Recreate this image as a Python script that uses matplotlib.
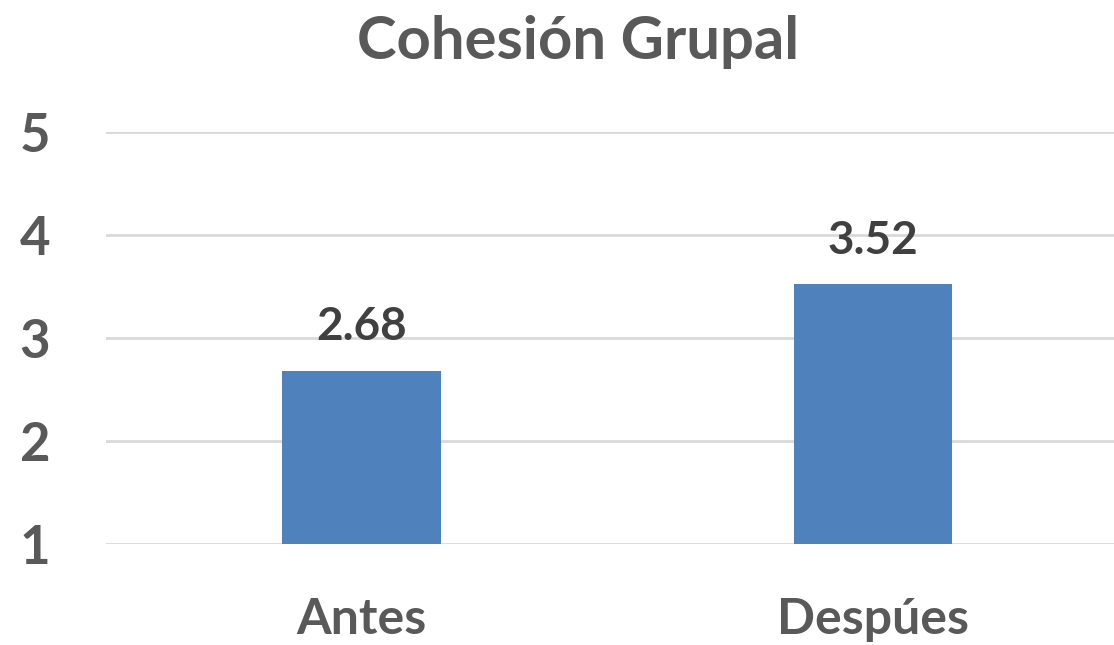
import matplotlib.pyplot as plt

plt.rcParams['font.family'] = ['Lato', 'DejaVu Sans']
plt.rcParams['font.weight'] = 'bold'

categories = ['Antes', 'Despúes']
values = [2.68, 3.52]
yticks = [1, 2, 3, 4, 5]

fig = plt.figure(figsize=(11.14, 6.45), dpi=100)
ax = fig.add_axes([0.095, 0.157, 0.918, 0.638])

x = range(len(categories))
bars = ax.bar(x, values, width=0.31, bottom=0, color='#4F81BD', zorder=3)

for xi, v in zip(x, values):
    ax.text(xi, v + 0.22, '%.2f' % v, ha='center', va='bottom',
            fontsize=33, fontweight='bold', color='#404040')

ax.set_xlim(-0.5, 1.5)
ax.set_ylim(1, 5)
ax.set_yticks(yticks)
ax.set_yticklabels([str(t) for t in yticks])
ax.set_xticks(list(x))
ax.set_xticklabels(categories)

ax.tick_params(axis='y', length=0, pad=40, labelsize=38, labelcolor='#595959')
ax.tick_params(axis='x', length=0, pad=38, labelsize=36, labelcolor='#595959')
for lab in ax.get_yticklabels() + ax.get_xticklabels():
    lab.set_fontweight('bold')

ax.grid(axis='y', color='#D9D9D9', linewidth=2, zorder=0)
for s in ax.spines.values():
    s.set_visible(False)

fig.text(0.519, 0.935, 'Cohesión Grupal', ha='center', va='center',
         fontsize=43, fontweight='bold', color='#595959')

fig.savefig('out.png', dpi=100)
